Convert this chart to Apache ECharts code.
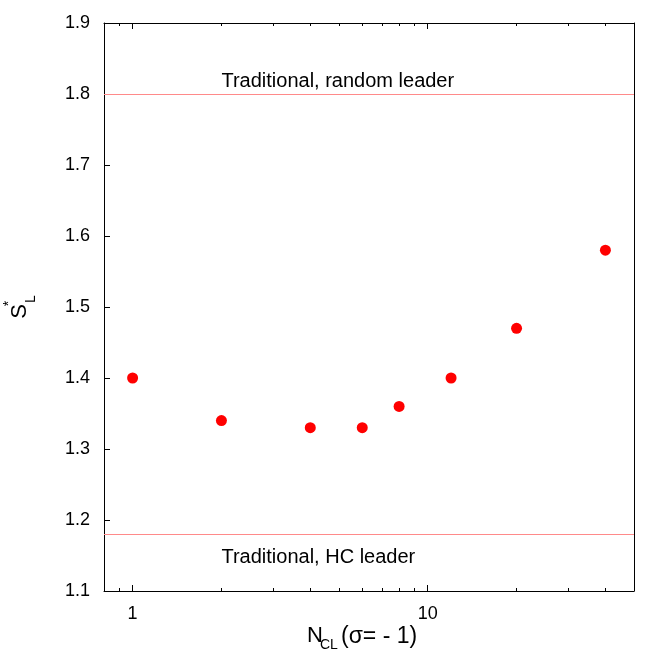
<!DOCTYPE html>
<html>
<head>
<meta charset="utf-8">
<script src="https://cdn.jsdelivr.net/npm/echarts@6/dist/echarts.min.js"></script>
<style>
html, body { margin: 0; padding: 0; background: #fff; }
#chart { width: 669px; height: 654px; }
</style>
</head>
<body>
<div id="chart"></div>
<script>
// data
const nCL = [1, 2, 4, 6, 8, 12, 20, 40]
const sL = [1.40, 1.34, 1.33, 1.33, 1.36, 1.40, 1.47, 1.58]
const refLevels = [1.8, 1.18]
const refNames = ['Traditional, random leader', 'Traditional, HC leader']
const refLabelAt = 2
const xMajorTicks = [1, 10]
const xMinorTicks = [0.9, 2, 3, 4, 5, 6, 7, 8, 9, 20, 30, 40]

const font = 'Liberation Sans, Arial, Helvetica, sans-serif'
const axisColor = '#000'
const gridRect = { left: 104, right: 35, top: 23, bottom: 63, outerBoundsMode: 'none', containLabel: false }

const chart = echarts.init(document.getElementById('chart'))

function logAxis(gridIndex, position, ticks, len, showLine, showLabel) {
  return {
    type: 'log',
    logBase: 10,
    gridIndex,
    position,
    min: 0.8,
    max: 50,
    axisLine: { show: showLine, lineStyle: { color: axisColor, width: 1 } },
    axisTick: { show: true, inside: true, length: len, customValues: ticks, lineStyle: { color: axisColor } },
    axisLabel: {
      show: showLabel,
      customValues: ticks,
      margin: 14,
      color: '#000',
      fontSize: 18,
      fontFamily: font,
      formatter: v => String(v),
    },
    splitLine: { show: false },
  }
}

const option = {
  animation: false,
  backgroundColor: '#fff',
  grid: [
    Object.assign({}, gridRect),
    Object.assign({}, gridRect),
  ],
  xAxis: [
    logAxis(0, 'bottom', xMajorTicks, 6, true, true),
    logAxis(0, 'top', xMajorTicks, 6, true, false),
    logAxis(1, 'bottom', xMinorTicks, 3, false, false),
    logAxis(1, 'top', xMinorTicks, 3, false, false),
  ],
  yAxis: [
    {
      type: 'value',
      gridIndex: 0,
      position: 'left',
      min: 1.1,
      max: 1.9,
      interval: 0.1,
      // S*_L : the star and the L sit stacked after the S
      name: '{s|S}{sup|*}{sub|L}',
      nameLocation: 'middle',
      nameGap: 66,
      nameRotate: 90,
      nameTextStyle: {
        color: '#000',
        fontFamily: font,
        rich: {
          s: { fontSize: 22, lineHeight: 36, fontFamily: font, color: '#000', verticalAlign: 'middle' },
          sup: { fontSize: 14, lineHeight: 14, width: 1, fontFamily: font, color: '#000', verticalAlign: 'top' },
          sub: { fontSize: 14, lineHeight: 14, fontFamily: font, color: '#000', verticalAlign: 'bottom' },
        },
      },
      axisLine: { show: true, lineStyle: { color: axisColor, width: 1 } },
      axisTick: { show: true, inside: true, length: 6, lineStyle: { color: axisColor } },
      axisLabel: {
        margin: 14,
        color: '#000',
        fontSize: 18,
        fontFamily: font,
        formatter: v => v.toFixed(1),
      },
      splitLine: { show: false },
    },
    {
      type: 'value',
      gridIndex: 0,
      position: 'right',
      min: 1.1,
      max: 1.9,
      interval: 0.1,
      axisLine: { show: true, lineStyle: { color: axisColor, width: 1 } },
      axisTick: { show: false },
      axisLabel: { show: false },
      splitLine: { show: false },
    },
    { type: 'value', gridIndex: 1, min: 1.1, max: 1.9, show: false },
  ],
  series: [
    {
      type: 'scatter',
      xAxisIndex: 0,
      yAxisIndex: 0,
      data: nCL.map((n, i) => [n, sL[i]]),
      symbolSize: 11,
      itemStyle: { color: '#ff0000', opacity: 1 },
      markLine: {
        silent: true,
        symbol: ['none', 'none'],
        label: { show: false },
        lineStyle: { color: '#ff8a8a', width: 1, type: 'solid' },
        data: refLevels.map(v => ({ yAxis: v })),
      },
      z: 3,
    },
    {
      type: 'scatter',
      xAxisIndex: 0,
      yAxisIndex: 0,
      symbolSize: 0,
      itemStyle: { color: 'rgba(0,0,0,0)' },
      silent: true,
      data: refLevels.map((v, i) => ({
        value: [refLabelAt, v],
        label: i === 0
          ? { position: [0, -3], verticalAlign: 'bottom' }
          : { position: [0, 13], verticalAlign: 'top' },
      })),
      label: {
        show: true,
        align: 'left',
        color: '#000',
        opacity: 1,
        textBorderWidth: 0,
        fontSize: 20,
        fontFamily: font,
        formatter: p => refNames[p.dataIndex],
      },
    },
  ],
  graphic: [
    // x axis title: N_CL (σ= - 1)
    { type: 'text', x: 307, y: 636,
      style: { text: 'N', fontSize: 22, fontFamily: font, fill: '#000', align: 'left', verticalAlign: 'middle' } },
    { type: 'text', x: 320, y: 645,
      style: { text: 'CL', fontSize: 14, fontFamily: font, fill: '#000', align: 'left', verticalAlign: 'middle' } },
    { type: 'text', x: 341, y: 637,
      style: { text: '(σ= - 1)', fontSize: 23, fontFamily: font, fill: '#000', align: 'left', verticalAlign: 'middle' } },
  ],
}

chart.setOption(option)
</script>
</body>
</html>
